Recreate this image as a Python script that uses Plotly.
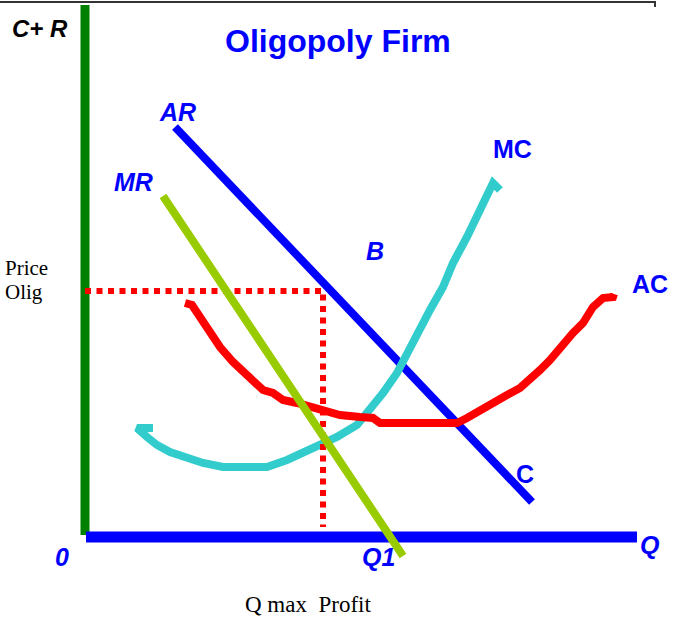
import plotly.graph_objects as go

# %% [Data]  (units: origin at the axes corner)
ar_q = [9.0, 44.7]
ar_p = [41.0, 3.5]

mr_q = [7.8, 31.8]
mr_p = [34.1, -1.9]

mc_q = [6.8, 5.2, 6.2, 7.2, 8.5, 10.2, 11.8, 13.8, 18.2, 20.2, 21.8, 23.5, 25.2, 27.2,
        28.5, 29.8, 31.2, 32.2, 33.2, 34.5, 35.8, 36.8, 38.2, 39.5, 40.5, 40.8, 41.5]
mc_p = [10.9, 10.9, 10.0, 9.2, 8.5, 7.9, 7.4, 7.0, 7.0, 7.7, 8.4, 9.2, 10.0, 11.2,
        12.7, 14.4, 16.4, 18.4, 20.4, 22.7, 25.0, 27.4, 30.0, 32.7, 34.4, 35.4, 34.7]

ac_q = [10.0, 10.7, 11.5, 12.5, 13.5, 14.8, 15.8, 16.8, 17.8, 18.8, 19.8, 21.2, 22.5, 23.8,
        25.5, 27.5, 28.8, 29.5, 37.2, 38.2, 39.5, 40.8, 42.2, 43.5, 44.5, 45.5, 46.5, 47.8,
        48.8, 49.8, 50.8, 51.8, 52.8, 52.9]
ac_p = [23.4, 23.2, 22.0, 20.4, 19.0, 17.5, 16.5, 15.7, 14.7, 14.4, 13.7, 13.4, 13.0, 12.7,
        12.2, 12.0, 11.9, 11.4, 11.4, 11.9, 12.7, 13.4, 14.2, 14.9, 15.7, 16.7, 17.7, 19.4,
        20.4, 21.4, 23.0, 23.9, 24.0, 24.3]

q1 = 23.8
price_olig = 24.6
q_axis_max = 55.2
p_axis_max = 53.2

BLUE = "#0000ff"
GREEN = "#008000"
LIME = "#99cc00"
CYAN = "#33cccc"
RED = "#ff0000"

SANS = "Liberation Sans, Arial, sans-serif"
SERIF = "Liberation Serif, Times New Roman, serif"

fig = go.Figure()

# axes
fig.add_trace(go.Scatter(x=[0, 0], y=[0.2, p_axis_max], mode="lines",
                         line=dict(color=GREEN, width=9)))
fig.add_trace(go.Scatter(x=[0.1, q_axis_max], y=[0, 0], mode="lines",
                         line=dict(color=BLUE, width=11)))

# curves
fig.add_trace(go.Scatter(x=ar_q, y=ar_p, mode="lines", line=dict(color=BLUE, width=8)))
fig.add_trace(go.Scatter(x=mc_q, y=mc_p, mode="lines", line=dict(color=CYAN, width=8)))
fig.add_trace(go.Scatter(x=ac_q, y=ac_p, mode="lines", line=dict(color=RED, width=8)))

# price / quantity guides
fig.add_trace(go.Scatter(x=[0, q1, q1], y=[price_olig, price_olig, 1.0], mode="lines",
                         line=dict(color=RED, width=6, dash="6px,5.5px")))

fig.add_trace(go.Scatter(x=mr_q, y=mr_p, mode="lines", line=dict(color=LIME, width=8)))

# labels
labels = [
    ("<b>Oligopoly Firm</b>", 25.3, 49.6, 32, BLUE, SANS, "center"),
    ("<b><i>C+ R</i></b>", -4.5, 50.9, 24, "black", SANS, "center"),
    ("<b><i>AR</i></b>", 9.2, 42.5, 25, BLUE, SANS, "center"),
    ("<b><i>MR</i></b>", 4.8, 35.5, 25, BLUE, SANS, "center"),
    ("<b>MC</b>", 42.7, 38.8, 25, BLUE, SANS, "center"),
    ("<b><i>B</i></b>", 29.0, 28.6, 25, BLUE, SANS, "center"),
    ("<b>AC</b>", 56.5, 25.3, 25, BLUE, SANS, "center"),
    ("<b>C</b>", 44.0, 6.3, 25, BLUE, SANS, "center"),
    ("<b><i>0</i></b>", -2.3, -2.0, 25, BLUE, SANS, "center"),
    ("<b><i>Q1</i></b>", 29.3, -2.0, 25, BLUE, SANS, "center"),
    ("<b><i>Q</i></b>", 56.5, -0.8, 25, BLUE, SANS, "center"),
    ("Price", -8.2, 26.9, 21, "black", SERIF, "left"),
    ("Olig", -8.2, 24.5, 21, "black", SERIF, "left"),
    ("Q max\u00a0\u00a0Profit", 22.3, -6.7, 23, "black", SERIF, "center"),
]
for txt, x, y, size, col, fam, anchor in labels:
    fig.add_annotation(x=x, y=y, text=txt, showarrow=False, xanchor=anchor, yanchor="middle",
                       font=dict(size=size, color=col, family=fam))

# frame edge at top
fig.add_shape(type="path", path="M -9 53.5 L 57.0 53.5 L 57.0 53.0",
              line=dict(color="#333333", width=2))

fig.update_layout(
    width=678, height=623,
    margin=dict(l=0, r=0, t=0, b=0),
    plot_bgcolor="white", paper_bgcolor="white",
    showlegend=False,
    xaxis=dict(range=[-8.5, 59.3], visible=False, fixedrange=True),
    yaxis=dict(range=[-8.6, 53.7], visible=False, fixedrange=True),
)

fig.write_html("out.html", config={"displayModeBar": False},
               post_script="document.body.style.margin='0';")
